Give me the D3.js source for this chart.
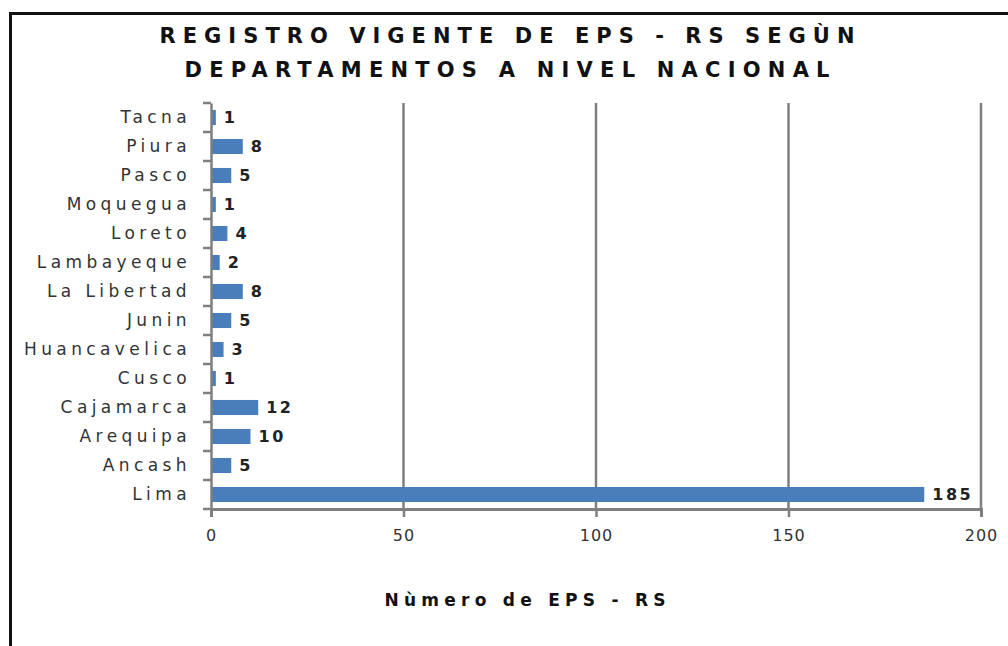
<!DOCTYPE html>
<html>
<head>
<meta charset="utf-8">
<script src="https://cdn.jsdelivr.net/npm/d3@7"></script>
<style>
  body { margin: 0; background: #fff; }
  svg { display: block; }
</style>
</head>
<body>
<div id="chart"></div>
<script>
// data, top to bottom as drawn
const departamentos = ['Tacna', 'Piura', 'Pasco', 'Moquegua', 'Loreto', 'Lambayeque', 'La Libertad',
  'Junin', 'Huancavelica', 'Cusco', 'Cajamarca', 'Arequipa', 'Ancash', 'Lima'];
const registros = [1, 8, 5, 1, 4, 2, 8, 5, 3, 1, 12, 10, 5, 185];
const xTicks = [0, 50, 100, 150, 200];
const titleLines = ['REGISTRO VIGENTE DE EPS - RS SEGÙN', 'DEPARTAMENTOS A NIVEL NACIONAL'];
const xTitle = 'Nùmero de EPS - RS';

const W = 1008, H = 646;
const svg = d3.select('#chart').append('svg').attr('width', W).attr('height', H);

// outer frame (only top and left visible in crop)
svg.append('path')
  .attr('d', `M10.5,${H} V13.5 H${W}`)
  .attr('fill', 'none').attr('stroke', '#111').attr('stroke-width', 3);

const plot = { left: 211, right: 981, top: 103, bottom: 509 };

const x = d3.scaleLinear().domain([0, 200]).range([plot.left, plot.right]);
const y = d3.scaleBand().domain(departamentos).range([plot.top, plot.bottom]).paddingInner(0.48).paddingOuter(0.24);

// title, stretched to the width seen in the original
const titleWidths = [695, 645];
svg.append('g').selectAll('text')
  .data(titleLines).enter().append('text')
  .attr('x', 507).attr('y', (d, i) => 43 + i * 34)
  .attr('text-anchor', 'middle')
  .attr('font-family', 'DejaVu Sans, sans-serif')
  .attr('font-weight', 'bold').attr('font-size', 21)
  .attr('textLength', (d, i) => titleWidths[i]).attr('lengthAdjust', 'spacing')
  .attr('fill', '#111')
  .text(d => d);

// gridlines
svg.append('g').selectAll('line')
  .data(xTicks.slice(1)).enter().append('line')
  .attr('x1', d => x(d)).attr('x2', d => x(d))
  .attr('y1', plot.top).attr('y2', plot.bottom)
  .attr('stroke', '#7f7f7f').attr('stroke-width', 2.5);

// bars
svg.append('g').selectAll('rect')
  .data(registros).enter().append('rect')
  .attr('x', x(0) + 1)
  .attr('y', (d, i) => y(departamentos[i]))
  .attr('width', d => x(d) - x(0))
  .attr('height', y.bandwidth())
  .attr('fill', '#4a7ebb');

// value labels
svg.append('g').selectAll('text')
  .data(registros).enter().append('text')
  .attr('x', d => x(d) + 9)
  .attr('y', (d, i) => y(departamentos[i]) + y.bandwidth() / 2)
  .attr('dy', '0.36em')
  .attr('font-family', 'DejaVu Sans, sans-serif')
  .attr('font-size', 16).attr('font-weight', 'bold')
  .attr('letter-spacing', 2.5).attr('fill', '#222')
  .text(d => d);

// y axis
const yAxis = d3.axisLeft(y).tickSize(0).tickPadding(20);
const gy = svg.append('g').attr('transform', `translate(${plot.left},0)`).call(yAxis);
gy.select('.domain').attr('stroke', '#7f7f7f').attr('stroke-width', 2.5);
gy.selectAll('text')
  .attr('font-family', 'DejaVu Sans, sans-serif')
  .attr('font-size', 17).attr('letter-spacing', 4.4)
  .attr('fill', '#333');
// category boundary ticks
const step = (plot.bottom - plot.top) / departamentos.length;
gy.append('g').selectAll('line')
  .data(d3.range(departamentos.length + 1)).enter().append('line')
  .attr('x1', -8).attr('x2', 0)
  .attr('y1', i => plot.top + i * step).attr('y2', i => plot.top + i * step)
  .attr('stroke', '#7f7f7f').attr('stroke-width', 2.5);

// x axis
const xAxis = d3.axisBottom(x).tickValues(xTicks).tickSize(8).tickPadding(13).tickFormat(d3.format('d'));
const gx = svg.append('g').attr('transform', `translate(0,${plot.bottom})`).call(xAxis);
gx.select('.domain').attr('stroke', '#7f7f7f').attr('stroke-width', 3);
gx.selectAll('.tick line').attr('stroke', '#7f7f7f').attr('stroke-width', 2.5);
gx.selectAll('text')
  .attr('font-family', 'DejaVu Sans, sans-serif')
  .attr('font-size', 16).attr('letter-spacing', 1).attr('fill', '#333');

// x title
svg.append('text')
  .attr('x', 525).attr('y', 606)
  .attr('text-anchor', 'middle')
  .attr('font-family', 'DejaVu Sans, sans-serif')
  .attr('font-weight', 'bold').attr('font-size', 17)
  .attr('textLength', 281).attr('lengthAdjust', 'spacing')
  .attr('fill', '#111')
  .text(xTitle);
</script>
</body>
</html>
